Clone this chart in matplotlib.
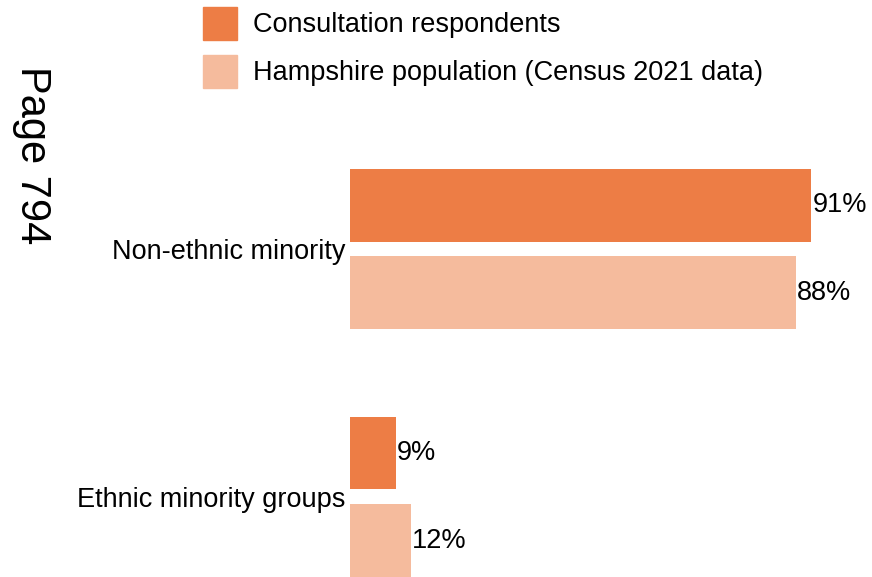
import matplotlib
matplotlib.use("Agg")
import matplotlib.pyplot as plt
from matplotlib.patches import Rectangle

plt.rcParams["font.family"] = ["Liberation Sans", "DejaVu Sans"]

# Ethnicity split: respondents vs Hampshire population
categories = ["Ethnic minority groups", "Non-ethnic minority"]
respondents = [9, 91]
population = [12, 88]
series_names = ["Consultation respondents", "Hampshire population (Census 2021 data)"]
colours = ["#ED7D45", "#F5BB9D"]

fig = plt.figure(figsize=(8.72, 5.77), dpi=100)
ax = fig.add_axes([350 / 872, 0, 506.6 / 872, 1])

y = [0, 1]
off = 0.177
h = 0.294
fs = 19.5
b1 = ax.barh([v + off for v in y], respondents, height=h, color=colours[0])
b2 = ax.barh([v - off for v in y], population, height=h, color=colours[1])
ax.bar_label(b1, labels=[f"{v}%" for v in respondents], padding=1, fontsize=fs)
ax.bar_label(b2, labels=[f"{v}%" for v in population], padding=1, fontsize=fs)

ax.set_xlim(0, 100)
ax.set_ylim(-0.323, 2.004)
ax.set_yticks(y)
ax.set_yticklabels(categories, fontsize=fs)
ax.tick_params(axis="y", length=0, pad=3)
ax.set_xticks([])
for s in ax.spines.values():
    s.set_visible(False)

# legend drawn by hand at the top
for i, (name, c) in enumerate(zip(series_names, colours)):
    top = 7 + i * 48
    fig.patches.append(Rectangle((203 / 872, 1 - (top + 33) / 577), 34 / 872, 33 / 577,
                                 transform=fig.transFigure, color=c))
    fig.text(253 / 872, 1 - (top + 18.5) / 577, name, fontsize=fs, va="center", ha="left")

fig.text(32 / 872, 1 - 155 / 577, "Page 794", fontsize=30, rotation=-90,
         ha="center", va="center")

fig.savefig("out.png", dpi=100)
